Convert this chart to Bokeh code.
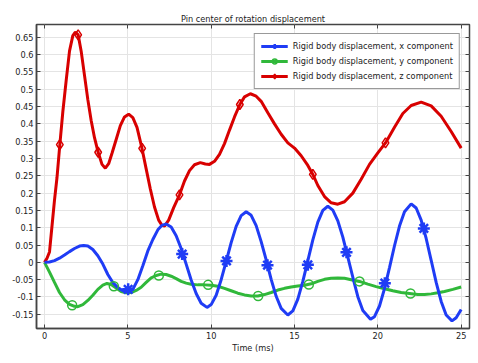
from bokeh.plotting import figure
from bokeh.models import (ColumnDataSource, Range1d, LinearAxis, FixedTicker,
                          Legend, LegendItem)
from bokeh.embed import file_html
from bokeh.resources import INLINE

# ---------------- data ----------------
x_t = [0, 0.3, 0.6, 0.9, 1.2, 1.5, 1.8, 2.1, 2.35, 2.6, 2.9, 3.2, 3.5, 3.8, 4.1, 4.4, 4.7, 5.0,
       5.3, 5.6, 5.9, 6.2, 6.5, 6.8, 7.05, 7.3, 7.6, 7.9, 8.2, 8.5, 8.8, 9.1, 9.4, 9.75,
       10.0, 10.3, 10.6, 10.9, 11.2, 11.5, 11.8, 12.1, 12.4, 12.7, 13.0, 13.3, 13.6, 13.9, 14.2, 14.6,
       14.9, 15.2, 15.5, 15.8, 16.1, 16.4, 16.7, 17.0, 17.3, 17.6, 17.9, 18.2, 18.5, 18.8, 19.1, 19.56,
       19.8, 20.1, 20.4, 20.7, 21.0, 21.3, 21.6, 22.0, 22.3, 22.6, 22.9, 23.2, 23.5, 23.8, 24.1, 24.45,
       24.7, 25.0]
x_v = [0, 0.001, 0.005, 0.012, 0.021, 0.031, 0.040, 0.047, 0.049, 0.047, 0.037, 0.019, -0.005, -0.035, -0.058, -0.073, -0.082, -0.086,
       -0.078, -0.050, -0.010, 0.033, 0.066, 0.094, 0.107, 0.111, 0.102, 0.077, 0.040, -0.005, -0.051, -0.090, -0.118, -0.130,
       -0.122, -0.095, -0.050, 0.003, 0.057, 0.104, 0.135, 0.146, 0.136, 0.106, 0.060, 0.007, -0.049, -0.098, -0.133, -0.152,
       -0.140, -0.106, -0.055, 0.005, 0.065, 0.116, 0.150, 0.162, 0.151, 0.120, 0.073, 0.015, -0.043, -0.099, -0.139, -0.164,
       -0.157, -0.126, -0.076, -0.015, 0.048, 0.105, 0.146, 0.169, 0.157, 0.122, 0.069, 0.006, -0.058, -0.113, -0.152, -0.169,
       -0.160, -0.136]
x_mark_t = [5.02, 8.26, 10.92, 13.38, 15.8, 18.12, 20.42, 22.76]
x_mark_v = [-0.078, 0.024, 0.004, -0.008, -0.007, 0.029, -0.060, 0.098]

y_t = [0, 0.3, 0.6, 0.9, 1.2, 1.5, 1.8, 2.0, 2.3, 2.6, 2.9, 3.2, 3.5, 3.75, 4.0, 4.3, 4.6, 4.9,
       5.2, 5.5, 5.8, 6.1, 6.4, 6.7, 7.0, 7.3, 7.6, 7.9, 8.2, 8.5, 8.8, 9.2, 9.6, 10.0, 10.4, 10.8,
       11.2, 11.6, 12.0, 12.4, 12.8, 13.2, 13.6, 14.0, 14.4, 14.8, 15.2, 15.6, 16.0, 16.4, 16.8, 17.2,
       17.6, 18.0, 18.4, 18.9, 19.4, 19.9, 20.4, 20.9, 21.4, 21.9, 22.4, 22.8, 23.2, 23.6, 24.0, 24.5, 25.0]
y_v = [0, -0.028, -0.058, -0.087, -0.108, -0.121, -0.127, -0.128, -0.122, -0.110, -0.095, -0.078, -0.066, -0.061, -0.064, -0.074, -0.084, -0.088,
       -0.087, -0.081, -0.072, -0.058, -0.045, -0.038, -0.034, -0.035, -0.040, -0.047, -0.055, -0.060, -0.063, -0.065, -0.065, -0.066, -0.069, -0.075,
       -0.082, -0.089, -0.094, -0.097, -0.097, -0.093, -0.087, -0.080, -0.075, -0.071, -0.068, -0.066, -0.062, -0.055, -0.049, -0.046,
       -0.045, -0.046, -0.050, -0.055, -0.063, -0.070, -0.076, -0.082, -0.087, -0.090, -0.093, -0.093, -0.091, -0.088, -0.084, -0.078, -0.071]
y_mark_t = [1.66, 4.16, 6.86, 9.82, 12.82, 15.86, 18.9, 21.96]
y_mark_v = [-0.124, -0.069, -0.038, -0.065, -0.097, -0.064, -0.055, -0.090]

z_t = [0, 0.15, 0.3, 0.45, 0.6, 0.75, 0.92, 1.1, 1.3, 1.5, 1.7, 1.85, 2.02, 2.2, 2.4, 2.6, 2.8, 3.0,
       3.22, 3.45, 3.65, 3.85, 4.05, 4.3, 4.55, 4.8, 5.05, 5.3, 5.55, 5.85, 6.1, 6.35, 6.6, 6.85, 7.05,
       7.2, 7.45, 7.75, 8.1, 8.4, 8.7, 9.0, 9.35, 9.65, 9.9, 10.2, 10.5, 10.8, 11.1, 11.4, 11.72, 12.0,
       12.35, 12.7, 13.0, 13.4, 13.8, 14.2, 14.6, 15.0, 15.4, 15.8, 16.1, 16.4, 16.8, 17.2, 17.6, 18.0,
       18.5, 19.0, 19.5, 20.0, 20.46, 21.0, 21.5, 22.0, 22.6, 23.2, 23.8, 24.4, 25.0]
z_v = [0, 0.012, 0.030, 0.105, 0.180, 0.245, 0.340, 0.435, 0.525, 0.610, 0.655, 0.665, 0.657, 0.610, 0.540, 0.470, 0.410, 0.360,
       0.318, 0.283, 0.272, 0.285, 0.315, 0.355, 0.395, 0.420, 0.428, 0.418, 0.390, 0.329, 0.270, 0.212, 0.160, 0.122, 0.107,
       0.105, 0.122, 0.158, 0.195, 0.235, 0.265, 0.282, 0.288, 0.284, 0.283, 0.292, 0.312, 0.343, 0.382, 0.420, 0.456, 0.478,
       0.487, 0.480, 0.465, 0.432, 0.400, 0.370, 0.345, 0.330, 0.308, 0.280, 0.254, 0.222, 0.190, 0.172, 0.168, 0.175,
       0.200, 0.240, 0.283, 0.316, 0.345, 0.390, 0.430, 0.453, 0.463, 0.452, 0.422, 0.378, 0.330]
z_mark_t = [0.92, 2.02, 3.22, 5.86, 8.1, 11.72, 16.1, 20.46]
z_mark_v = [0.340, 0.657, 0.318, 0.329, 0.195, 0.456, 0.254, 0.345]

x_ticks = [0, 5, 10, 15, 20, 25]
y_ticks = [-0.15, -0.1, -0.05, 0, 0.05, 0.1, 0.15, 0.2, 0.25, 0.3, 0.35, 0.4, 0.45, 0.5, 0.55, 0.6, 0.65]
y_tick_labels = ["-0.15", "-0.1", "-0.05", "0", "0.05", "0.1", "0.15", "0.2", "0.25", "0.3",
                 "0.35", "0.4", "0.45", "0.5", "0.55", "0.6", "0.65"]

title_text = "Pin center of rotation displacement"
x_label = "Time (ms)"
names = ["Rigid body displacement, x component",
         "Rigid body displacement, y component",
         "Rigid body displacement, z component"]

# ---------------- styling ----------------
FONT = "DejaVu Sans"
FS = "8.2px"
BLUE = "#1f3cf5"
GREEN = "#30b83a"
RED = "#d80000"

p = figure(width=471, height=355, output_backend="svg", toolbar_location=None,
           x_range=Range1d(-0.48, 25.5), y_range=Range1d(-0.191, 0.687),
           min_border_left=36, min_border_right=2, min_border_top=24, min_border_bottom=0,
           x_axis_label=x_label)

p.title.text = title_text
p.title.align = "center"
p.title.text_font = FONT
p.title.text_font_size = FS
p.title.text_font_style = "normal"
p.title.text_color = "#222222"
p.title.standoff = 2

p.outline_line_color = "#444444"
p.outline_line_width = 1.5
p.background_fill_color = "white"
p.border_fill_color = "white"

for ax in p.xaxis:
    ax.ticker = FixedTicker(ticks=x_ticks)
for ax in p.yaxis:
    ax.ticker = FixedTicker(ticks=y_ticks)
    ax.major_label_overrides = {t: l for t, l in zip(y_ticks, y_tick_labels)}

for ax in list(p.xaxis) + list(p.yaxis):
    ax.major_label_text_font = FONT
    ax.major_label_text_font_size = FS
    ax.major_label_text_color = "#222222"
    ax.axis_label_text_font = FONT
    ax.axis_label_text_font_size = FS
    ax.axis_label_text_font_style = "normal"
    ax.axis_label_text_color = "#222222"
    ax.axis_label_standoff = 1
    ax.major_tick_in = 4
    ax.major_tick_out = 0
    ax.minor_tick_line_color = None
    ax.axis_line_color = "#444444"
    ax.axis_line_width = 1.5
    ax.major_tick_line_color = "#444444"
    ax.major_label_standoff = 3

top_ax = LinearAxis(ticker=FixedTicker(ticks=x_ticks),
                    major_label_overrides={t: "" for t in x_ticks},
                    major_tick_in=4, major_tick_out=0, minor_tick_line_color=None,
                    axis_line_color=None, major_tick_line_color="#444444", major_label_standoff=0)
right_ax = LinearAxis(ticker=FixedTicker(ticks=y_ticks),
                      major_label_overrides={t: "" for t in y_ticks},
                      major_tick_in=4, major_tick_out=0, minor_tick_line_color=None,
                      axis_line_color=None, major_tick_line_color="#444444", major_label_standoff=0)
p.add_layout(top_ax, "above")
p.add_layout(right_ax, "right")

p.xgrid.grid_line_color = "#e4e4e4"
p.ygrid.grid_line_color = "#e4e4e4"
p.xgrid.grid_line_width = 1
p.ygrid.grid_line_width = 1

LW = 3
sx = ColumnDataSource(dict(t=x_t, v=x_v))
sy = ColumnDataSource(dict(t=y_t, v=y_v))
sz = ColumnDataSource(dict(t=z_t, v=z_v))
mx = ColumnDataSource(dict(t=x_mark_t, v=x_mark_v))
my = ColumnDataSource(dict(t=y_mark_t, v=y_mark_v))
mz = ColumnDataSource(dict(t=z_mark_t, v=z_mark_v))

lz = p.line("t", "v", source=sz, line_color=RED, line_width=LW)
ly = p.line("t", "v", source=sy, line_color=GREEN, line_width=LW)
lx = p.line("t", "v", source=sx, line_color=BLUE, line_width=LW)
kz = p.scatter("t", "v", source=mz, marker="diamond", size=10, fill_color=None,
               line_color=RED, line_width=1.5)
ky = p.scatter("t", "v", source=my, marker="circle", size=9, fill_color=None,
               line_color=GREEN, line_width=1.5)
kx = p.scatter("t", "v", source=mx, marker="asterisk", size=12,
               line_color=BLUE, line_width=2.5)

legend = Legend(items=[LegendItem(label=names[0], renderers=[lx, kx]),
                       LegendItem(label=names[1], renderers=[ly, ky]),
                       LegendItem(label=names[2], renderers=[lz, kz])],
                location="top_right")
legend.label_text_font = FONT
legend.label_text_font_size = FS
legend.label_text_color = "#222222"
legend.border_line_color = "#333333"
legend.border_line_width = 1.5
legend.background_fill_alpha = 1
legend.padding = 6
legend.spacing = 3
legend.margin = 9
legend.glyph_width = 27
legend.glyph_height = 12
legend.label_height = 12
legend.label_standoff = 5
p.add_layout(legend, "center")

open("out.html", "w").write(file_html(p, INLINE))
